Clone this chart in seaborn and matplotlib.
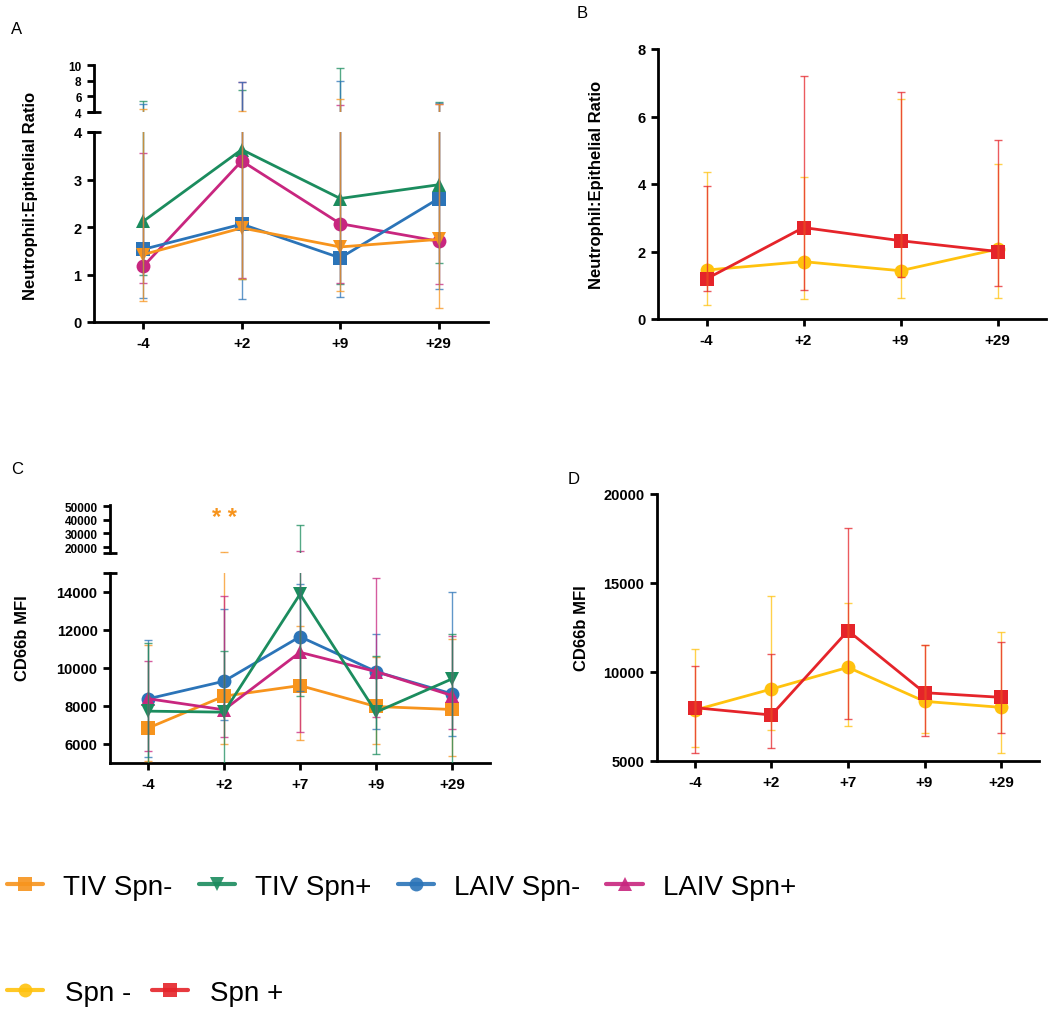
import numpy as np
import pandas as pd
import matplotlib
matplotlib.use("Agg")
import matplotlib.pyplot as plt
import seaborn as sns
from matplotlib.lines import Line2D

sns.set_style("ticks")
plt.rcParams["font.family"] = ["Liberation Sans", "DejaVu Sans"]
plt.rcParams["text.color"] = "black"
plt.rcParams["xtick.color"] = "black"
plt.rcParams["ytick.color"] = "black"
plt.rcParams["axes.labelcolor"] = "black"

# ---------------- data ----------------
days_ab = ["-4", "+2", "+9", "+29"]
days_cd = ["-4", "+2", "+7", "+9", "+29"]
groups4 = ["TIV Spn-", "TIV Spn+", "LAIV Spn-", "LAIV Spn+"]
groups2 = ["Spn -", "Spn +"]

# Panel A: neutrophil:epithelial ratio (centre, lower bar end, upper bar end)
a_tiv_neg = [1.42, 1.98, 1.58, 1.74]
a_tiv_neg_lo = [0.44, 0.91, 0.65, 0.29]
a_tiv_neg_hi = [4.34, 4.13, 5.6, 5.0]
a_tiv_pos = [2.12, 3.63, 2.60, 2.89]
a_tiv_pos_lo = [1.0, 0.9, 0.8, 1.24]
a_tiv_pos_hi = [5.36, 6.8, 9.6, 5.28]
a_laiv_neg = [1.53, 2.06, 1.35, 2.60]
a_laiv_neg_lo = [0.5, 0.49, 0.53, 0.69]
a_laiv_neg_hi = [4.98, 7.83, 8.0, 5.2]
a_laiv_pos = [1.17, 3.39, 2.07, 1.70]
a_laiv_pos_lo = [0.82, 0.93, 0.83, 0.81]
a_laiv_pos_hi = [3.56, 7.8, 4.94, 5.0]

# Panel B
b_spn_neg = [1.45, 1.70, 1.43, 2.07]
b_spn_neg_lo = [0.42, 0.59, 0.61, 0.61]
b_spn_neg_hi = [4.35, 4.2, 6.52, 4.6]
b_spn_pos = [1.19, 2.71, 2.32, 2.0]
b_spn_pos_lo = [0.84, 0.86, 1.24, 0.98]
b_spn_pos_hi = [3.95, 7.21, 6.74, 5.31]

# Panel C: CD66b MFI
c_tiv_neg = [6834, 8511, 9070, 7969, 7812]
c_tiv_neg_lo = [5087, 6000, 6223, 6013, 5349]
c_tiv_neg_hi = [11200, 16000, 12214, 10555, 11515]
c_tiv_pos = [7725, 7672, 13873, 7672, 9419]
c_tiv_pos_lo = [4800, 4500, 8546, 5489, 4800]
c_tiv_pos_hi = [11288, 10904, 36480, 10642, 11777]
c_laiv_neg = [8371, 9297, 11638, 9803, 8633]
c_laiv_neg_lo = [5300, 7236, 8800, 6799, 6415]
c_laiv_neg_hi = [11463, 13087, 14432, 11777, 13996]
c_laiv_pos = [8380, 7795, 10817, 9803, 8546]
c_laiv_pos_lo = [5611, 6362, 6624, 7410, 6764]
c_laiv_pos_hi = [10380, 13786, 17300, 14712, 11690]

# Panel D
d_spn_neg = [7850, 9031, 10250, 8338, 8000]
d_spn_neg_lo = [5750, 6744, 6969, 6556, 5413]
d_spn_neg_hi = [11281, 14263, 13850, 11525, 12219]
d_spn_pos = [7981, 7569, 12313, 8825, 8563]
d_spn_pos_lo = [5413, 5694, 7363, 6369, 6556]
d_spn_pos_hi = [10344, 11000, 18106, 11525, 11694]

# ---------------- styles ----------------
ORANGE = "#F7941D"
GREEN = "#1B8C5E"
BLUE = "#2B74B8"
MAGENTA = "#C8267F"
YELLOW = "#FFC20E"
RED = "#E5242A"

W, H = 1049, 1012
fig = plt.figure(figsize=(W / 100, H / 100), dpi=100)


def rect(l, t, r, b):
    return [l / W, 1 - b / H, (r - l) / W, (b - t) / H]


def style_axis(ax, bottom=True, ylab_size=10.5):
    for s in ["top", "right"]:
        ax.spines[s].set_visible(False)
    ax.spines["left"].set_linewidth(2)
    ax.spines["bottom"].set_linewidth(2)
    ax.spines["left"].set_color("black")
    ax.spines["bottom"].set_color("black")
    if not bottom:
        ax.spines["bottom"].set_visible(False)
        ax.tick_params(axis="x", bottom=False, labelbottom=False)
    ax.tick_params(axis="both", direction="out", length=5, width=2, color="black",
                   labelcolor="black")
    ax.tick_params(axis="y", labelsize=ylab_size, pad=4)
    ax.tick_params(axis="x", labelsize=11, pad=5)
    for lab in ax.get_yticklabels() + ax.get_xticklabels():
        lab.set_fontweight("bold")
    ax.set_xlabel("")
    ax.set_ylabel("")
    ax.grid(False)
    ax.set_facecolor("white")


def brk(ax, y, half_px=7):
    w = half_px / (ax.get_position().width * W)
    ax.plot([-w, w], [y, y], transform=ax.transAxes, color="black", lw=2,
            clip_on=False, solid_capstyle="butt")


def draw_series(ax, days, vals, lo, hi, color, marker, ms=10, line=True, hi_min=None):
    x = np.arange(len(days))
    if line:
        df = pd.DataFrame({"x": x, "y": vals})
        sns.lineplot(data=df, x="x", y="y", color=color, marker=marker, ax=ax,
                     linewidth=2, markersize=ms, markeredgewidth=0,
                     errorbar=None, legend=False, zorder=3)
    v = np.array(vals, float)
    l = np.array(lo, float)
    h = np.array(hi, float)
    keep = np.ones(len(x), bool) if hi_min is None else h > hi_min
    ax.errorbar(x[keep], v[keep], yerr=[(v - l)[keep], (h - v)[keep]], fmt="none",
                ecolor=color, elinewidth=1, capsize=3, capthick=1, alpha=0.75,
                zorder=4)


# ---------------- Panel A ----------------
a_series = [
    (a_tiv_pos, a_tiv_pos_lo, a_tiv_pos_hi, GREEN, "^"),
    (a_laiv_pos, a_laiv_pos_lo, a_laiv_pos_hi, MAGENTA, "o"),
    (a_laiv_neg, a_laiv_neg_lo, a_laiv_neg_hi, BLUE, "s"),
    (a_tiv_neg, a_tiv_neg_lo, a_tiv_neg_hi, ORANGE, "v"),
]
axA_top = fig.add_axes(rect(94, 66, 488, 113))
axA = fig.add_axes(rect(94, 133, 488, 323))
for vals, lo, hi, col, mk in a_series:
    draw_series(axA_top, days_ab, vals, lo, hi, col, mk, line=False, hi_min=4)
    draw_series(axA, days_ab, vals, lo, hi, col, mk)
for ax in (axA_top, axA):
    ax.set_xlim(-0.5, len(days_ab) - 0.5)
axA_top.set_ylim(4, 10)
axA_top.set_yticks([4, 6, 8, 10])
axA.set_ylim(0, 4)
axA.set_yticks([0, 1, 2, 3, 4])
axA.set_xticks(range(len(days_ab)))
axA.set_xticklabels(days_ab)
style_axis(axA_top, bottom=False, ylab_size=8.5)
style_axis(axA)
brk(axA_top, 0)
brk(axA, 1)

# ---------------- Panel B ----------------
axB = fig.add_axes(rect(658, 50, 1046, 320))
draw_series(axB, days_ab, b_spn_neg, b_spn_neg_lo, b_spn_neg_hi, YELLOW, "o")
draw_series(axB, days_ab, b_spn_pos, b_spn_pos_lo, b_spn_pos_hi, RED, "s")
axB.set_xlim(-0.5, len(days_ab) - 0.5)
axB.set_ylim(0, 8)
axB.set_yticks([0, 2, 4, 6, 8])
axB.set_xticks(range(len(days_ab)))
axB.set_xticklabels(days_ab)
style_axis(axB)

# ---------------- Panel C ----------------
c_series = [
    (c_tiv_neg, c_tiv_neg_lo, c_tiv_neg_hi, ORANGE, "s"),
    (c_laiv_neg, c_laiv_neg_lo, c_laiv_neg_hi, BLUE, "o"),
    (c_laiv_pos, c_laiv_pos_lo, c_laiv_pos_hi, MAGENTA, "^"),
    (c_tiv_pos, c_tiv_pos_lo, c_tiv_pos_hi, GREEN, "v"),
]
axC_top = fig.add_axes(rect(110, 505.7, 490, 554))
axC = fig.add_axes(rect(110, 573.7, 490, 764))
for vals, lo, hi, col, mk in c_series:
    draw_series(axC_top, days_cd, vals, lo, hi, col, mk, line=False, hi_min=15600)
    draw_series(axC, days_cd, vals, lo, hi, col, mk)
for ax in (axC_top, axC):
    ax.set_xlim(-0.5, len(days_cd) - 0.5)
axC_top.set_ylim(15600, 51200)
axC_top.set_yticks([20000, 30000, 40000, 50000])
axC.set_ylim(5000, 15000)
axC.set_yticks([6000, 8000, 10000, 12000, 14000])
axC.set_xticks(range(len(days_cd)))
axC.set_xticklabels(days_cd)
style_axis(axC_top, bottom=False, ylab_size=8.5)
style_axis(axC)
brk(axC_top, 0)
brk(axC, 1)
axC_top.text(1, 41500, "* *", color=ORANGE, fontsize=17, fontweight="bold",
             ha="center", va="center")

# ---------------- Panel D ----------------
axD = fig.add_axes(rect(656.7, 495, 1039.3, 761.7))
draw_series(axD, days_cd, d_spn_neg, d_spn_neg_lo, d_spn_neg_hi, YELLOW, "o")
draw_series(axD, days_cd, d_spn_pos, d_spn_pos_lo, d_spn_pos_hi, RED, "s")
axD.set_xlim(-0.5, len(days_cd) - 0.5)
axD.set_ylim(5000, 20000)
axD.set_yticks([5000, 10000, 15000, 20000])
axD.set_xticks(range(len(days_cd)))
axD.set_xticklabels(days_cd)
style_axis(axD)

# ---------------- labels ----------------
lab_kw = dict(rotation=90, ha="center", va="center", fontweight="bold", fontsize=12,
              color="black")
fig.text(31 / W, 1 - 196 / H, "Neutrophil:Epithelial Ratio", **lab_kw)
fig.text(597 / W, 1 - 185 / H, "Neutrophil:Epithelial Ratio", **lab_kw)
fig.text(23 / W, 1 - 638 / H, "CD66b MFI", **lab_kw)
fig.text(581 / W, 1 - 628 / H, "CD66b MFI", **lab_kw)

pan_kw = dict(ha="center", va="center", fontsize=12, color="black")
fig.text(17 / W, 1 - 30 / H, "A", **pan_kw)
fig.text(582 / W, 1 - 14 / H, "B", **pan_kw)
fig.text(17 / W, 1 - 470 / H, "C", **pan_kw)
fig.text(574 / W, 1 - 480 / H, "D", **pan_kw)

# ---------------- legends ----------------
leg_font = {"family": "Liberation Sans", "size": 20}
h4 = [Line2D([], [], color=c, marker=m, lw=3, ms=10, mew=0, alpha=0.9)
      for c, m in [(ORANGE, "s"), (GREEN, "v"), (BLUE, "o"), (MAGENTA, "^")]]
leg1 = fig.legend(h4, groups4, loc="center left", bbox_to_anchor=(7 / W, 1 - 888 / H),
                  ncol=4, frameon=False, prop=leg_font, handlelength=1.3,
                  handletextpad=0.72, columnspacing=0.95, borderpad=0, borderaxespad=0)
h2 = [Line2D([], [], color=c, marker=m, lw=3, ms=10, mew=0, alpha=0.9)
      for c, m in [(YELLOW, "o"), (RED, "s")]]
leg2 = fig.legend(h2, groups2, loc="center left", bbox_to_anchor=(7 / W, 1 - 994 / H),
                  ncol=2, frameon=False, prop=leg_font, handlelength=1.3,
                  handletextpad=0.8, columnspacing=0.72, borderpad=0, borderaxespad=0)
for lg in (leg1, leg2):
    for t in lg.get_texts():
        t.set_color("black")

fig.savefig("out.png", dpi=100, facecolor="white")
